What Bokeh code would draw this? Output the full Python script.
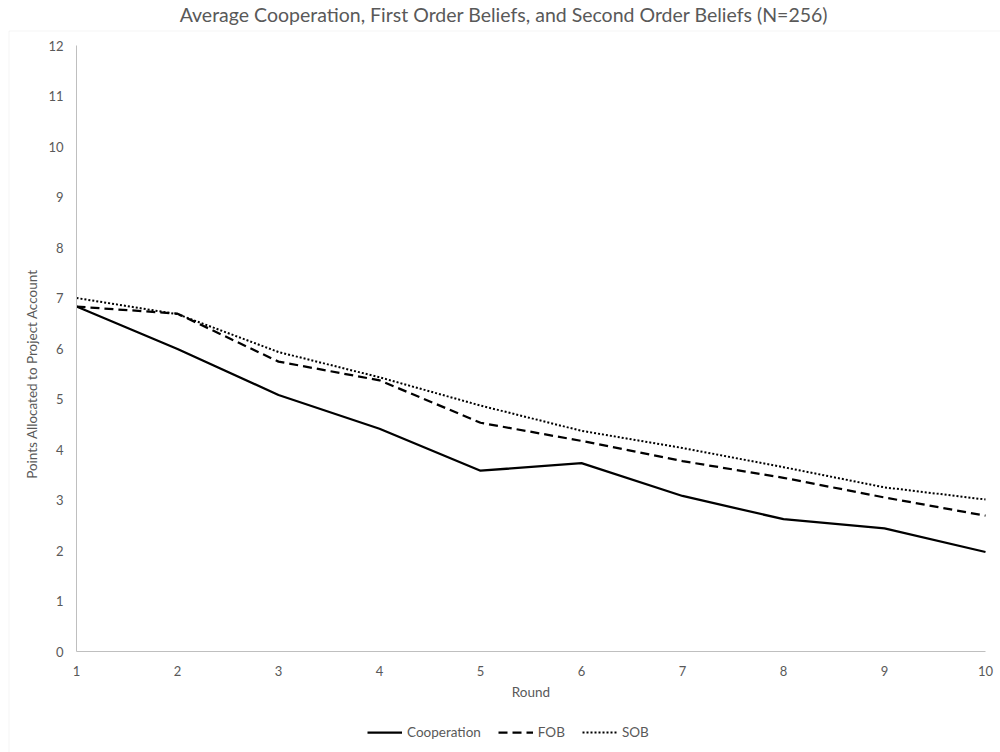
from bokeh.plotting import figure
from bokeh.models import Legend, LegendItem, FixedTicker, BoxAnnotation, LinearAxis, Range1d
from bokeh.embed import file_html
from bokeh.resources import INLINE

rounds = [1, 2, 3, 4, 5, 6, 7, 8, 9, 10]
cooperation = [6.83, 5.99, 5.08, 4.41, 3.58, 3.73, 3.08, 2.62, 2.44, 1.97]
fob = [6.83, 6.69, 5.74, 5.37, 4.53, 4.17, 3.77, 3.44, 3.05, 2.69]
sob = [7.00, 6.68, 5.93, 5.43, 4.87, 4.37, 4.03, 3.65, 3.25, 3.01]
y_ticks = list(range(0, 13))

FONT = "Lato"
GREY = "#595959"

# the plot frame is the whole chart area (x 7..1000, y 29..752);
# ranges are padded so rounds 1..10 and values 0..12 sit in the inner plot area
W, H = 1000, 752
FL, FT = 7, 29
px_x = 101.0   # pixels per round
px_y = 50.5    # pixels per point
x0_px, y0_px = 76, 651
x_range = Range1d(1 - (x0_px - FL) / px_x, 10 + (W - 985) / px_x)
y_range = Range1d(0 - (H - y0_px) / px_y, 12 + (45 - FT) / px_y)

p = figure(width=W, height=H, output_backend="svg", toolbar_location=None,
           x_range=x_range, y_range=y_range, x_axis_type=None, y_axis_type=None,
           min_border_left=FL, min_border_right=0, min_border_top=FT, min_border_bottom=0,
           title="Average Cooperation, First Order Beliefs, and Second Order Beliefs (N=256)")
p.title.align = "center"
p.title.vertical_align = "top"
p.title.text_font = FONT
p.title.text_font_size = "19.5px"
p.title.text_font_style = "normal"
p.title.text_color = GREY
p.title.standoff = 4
p.outline_line_color = None
p.grid.visible = False

xaxis = LinearAxis(fixed_location=0, bounds=(1, 10), ticker=FixedTicker(ticks=rounds))
yaxis = LinearAxis(fixed_location=1, bounds=(0, 12), ticker=FixedTicker(ticks=y_ticks))
ylab_axis = LinearAxis(fixed_location=1, bounds=(-1, 12), ticker=FixedTicker(ticks=[]),
                       axis_line_color=None)

for ax in (xaxis, yaxis, ylab_axis):
    if ax is not ylab_axis:
        ax.axis_line_color = "#bfbfbf"
    ax.axis_line_width = 1
    ax.major_tick_out = 0
    ax.major_tick_in = 0
    ax.minor_tick_out = 0
    ax.minor_tick_in = 0
    ax.major_label_text_font = FONT
    ax.major_label_text_font_size = "13px"
    ax.major_label_text_color = GREY
    ax.axis_label_text_font = FONT
    ax.axis_label_text_font_size = "13.5px"
    ax.axis_label_text_font_style = "normal"
    ax.axis_label_text_color = GREY

xaxis.axis_label = "Round"
ylab_axis.axis_label = "Points Allocated to Project Account"
yaxis.major_label_standoff = 13
xaxis.major_label_standoff = 14
xaxis.axis_label_standoff = 5
ylab_axis.major_label_standoff = 0
ylab_axis.axis_label_standoff = 37

p.add_layout(xaxis, "below")
p.add_layout(yaxis, "left")
p.add_layout(ylab_axis, "left")

r1 = p.line(rounds, cooperation, line_color="black", line_width=2.25)
r2 = p.line(rounds, fob, line_color="black", line_width=2.25, line_dash="9 5")
r3 = p.line(rounds, sob, line_color="black", line_width=2, line_dash="2 2")

legend = Legend(items=[LegendItem(label="Cooperation", renderers=[r1]),
                       LegendItem(label="FOB", renderers=[r2]),
                       LegendItem(label="SOB", renderers=[r3])],
                orientation="horizontal", location=(360, 10),
                label_text_font=FONT, label_text_font_size="13.5px", label_text_color=GREY,
                glyph_width=35, glyph_height=20, label_standoff=5, spacing=17,
                border_line_color=None, background_fill_alpha=0,
                padding=4, margin=0)
p.add_layout(legend)

# chart-area border: only its top and left edges fall inside the window
frame_box = BoxAnnotation(left=1.5, right=2000, top=H - FT - 1.5, bottom=-50,
                          left_units="screen", right_units="screen",
                          top_units="screen", bottom_units="screen",
                          fill_alpha=0, line_color="#d9d9d9", line_width=1)
p.add_layout(frame_box)

open("out.html", "w").write(file_html(p, INLINE))
